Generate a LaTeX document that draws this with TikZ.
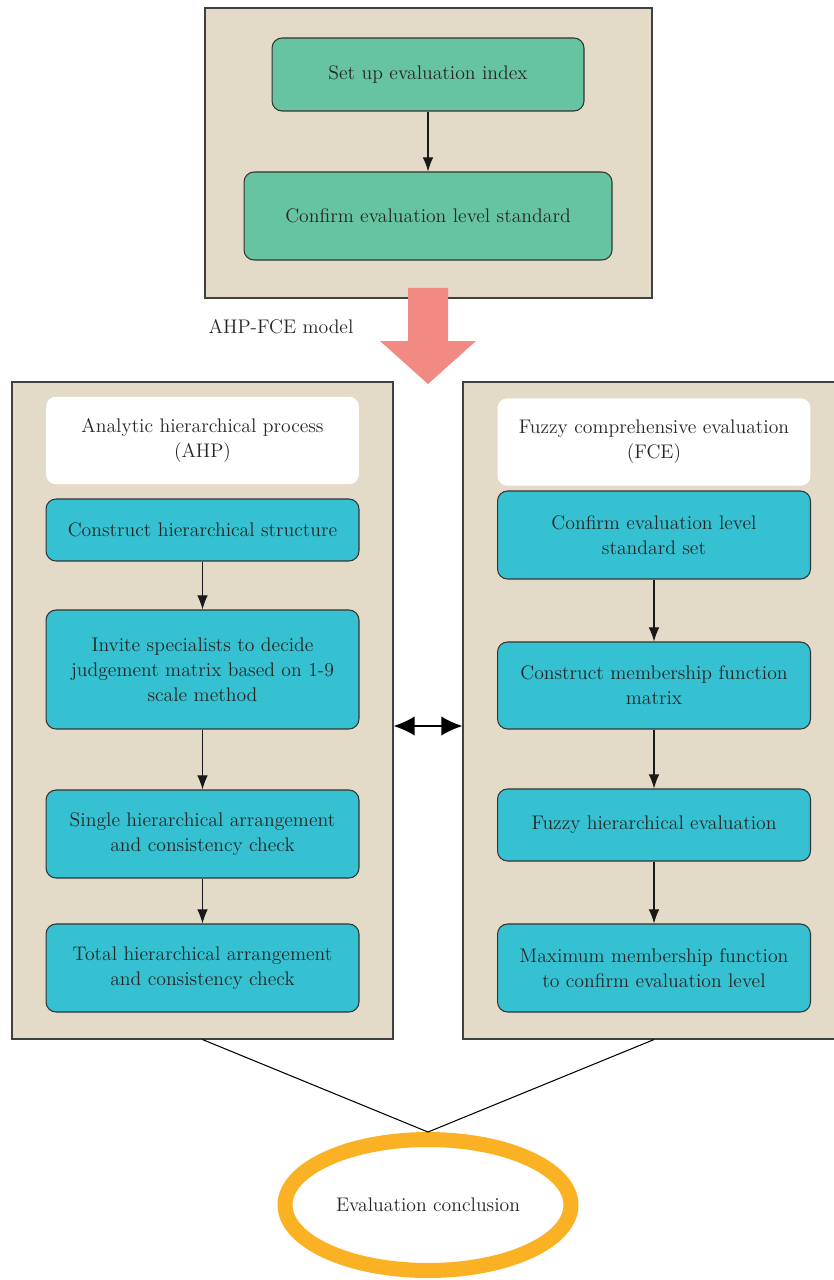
\documentclass[tikz,border=0pt]{standalone}
\usepackage{tikz}
\usetikzlibrary{arrows.meta, shapes.geometric}

\definecolor{beige}{HTML}{E3DBC8}
\definecolor{stepgreen}{HTML}{66C5A0}
\definecolor{stepcyan}{HTML}{35C1D1}
\definecolor{ringorange}{HTML}{FAB224}
\definecolor{bigarrow}{HTML}{F28A84}
\definecolor{textgray}{HTML}{262626}

\begin{document}
\begin{tikzpicture}[
    x=0.02cm, y=-0.02cm,
    every node/.style={font=\fontsize{11.2}{14.2}\selectfont, text=textgray},
    panel/.style={draw=black!75, line width=0.7pt, fill=beige, inner sep=0pt},
    gbox/.style={draw=black!80, line width=0.6pt, rounded corners=0.2cm, fill=stepgreen,
                 align=center, inner sep=0pt},
    cbox/.style={draw=black!80, line width=0.6pt, rounded corners=0.2cm, fill=stepcyan,
                 minimum width=6.26cm, align=center, inner sep=0pt},
    wbox/.style={rounded corners=0.2cm, fill=white, minimum width=6.26cm,
                 minimum height=1.75cm, align=center, inner sep=0pt},
    arrow/.style={-{Latex[length=8pt, width=6pt]}, line width=0.6pt, black!90},
    link/.style={line width=0.6pt, black}
]
\useasboundingbox (0,0) rectangle (833,1280);

% --- Top panel ---
\node[panel, minimum width=8.94cm, minimum height=5.8cm] (top) at (428.5,153) {};
\node[gbox, minimum width=6.24cm, minimum height=1.46cm] (index) at (428,74.5)
    {Set up evaluation index};
\node[gbox, minimum width=7.36cm, minimum height=1.76cm] (level) at (428,216)
    {Confirm evaluation level standard};
\draw[arrow] (index) -- (level);

% Big down arrow and model label
\fill[bigarrow] (408,288) -- (448,288) -- (448,341) -- (476,341)
    -- (428,384) -- (380,341) -- (408,341) -- cycle;
\node (model) at (281,327) {AHP-FCE model};

% --- Left panel: AHP ---
\node[panel, minimum width=7.62cm, minimum height=13.14cm] (ahp) at (202.5,710.5) {};
\node[wbox] (ahphead) at (202.5,440.5) {Analytic hierarchical process\\(AHP)};
\node[cbox, minimum height=1.24cm] (a1) at (202.5,530)
    {Construct hierarchical structure};
\node[cbox, minimum height=2.38cm] (a2) at (202.5,669.5)
    {Invite specialists to decide\\judgement matrix based on 1-9\\scale method};
\node[cbox, minimum height=1.76cm] (a3) at (202.5,834)
    {Single hierarchical arrangement\\and consistency check};
\node[cbox, minimum height=1.76cm] (a4) at (202.5,968)
    {Total hierarchical arrangement\\and consistency check};
\draw[arrow] (a1) -- (a2);
\draw[arrow] (a2) -- (a3);
\draw[arrow] (a3) -- (a4);

% --- Right panel: FCE ---
\node[panel, minimum width=7.64cm, minimum height=13.14cm] (fce) at (654,710.5) {};
\node[wbox] (fcehead) at (654,442) {Fuzzy comprehensive evaluation\\(FCE)};
\node[cbox, minimum height=1.76cm] (f1) at (654,535)
    {Confirm evaluation level\\standard set};
\node[cbox, minimum height=1.74cm] (f2) at (654,685.5)
    {Construct membership function\\matrix};
\node[cbox, minimum height=1.44cm] (f3) at (654,825)
    {Fuzzy hierarchical evaluation};
\node[cbox, minimum height=1.76cm] (f4) at (654,968)
    {Maximum membership function\\to confirm evaluation level};
\draw[arrow] (f1) -- (f2);
\draw[arrow] (f2) -- (f3);
\draw[arrow] (f3) -- (f4);

% Two-way link between the panels
\draw[{Latex[length=12pt, width=11pt]}-{Latex[length=12pt, width=11pt]}, line width=0.8pt]
    (ahp.east |- 0,726) -- (fce.west |- 0,726);

% --- Conclusion ---
\node[draw=ringorange, line width=0.3cm, ellipse, fill=white,
      minimum width=5.72cm, minimum height=2.62cm] (concl) at (428,1205)
    {Evaluation conclusion};
\draw[link] (ahp.south) -- (concl.north);
\draw[link] (fce.south) -- (concl.north);

\end{tikzpicture}
\end{document}
